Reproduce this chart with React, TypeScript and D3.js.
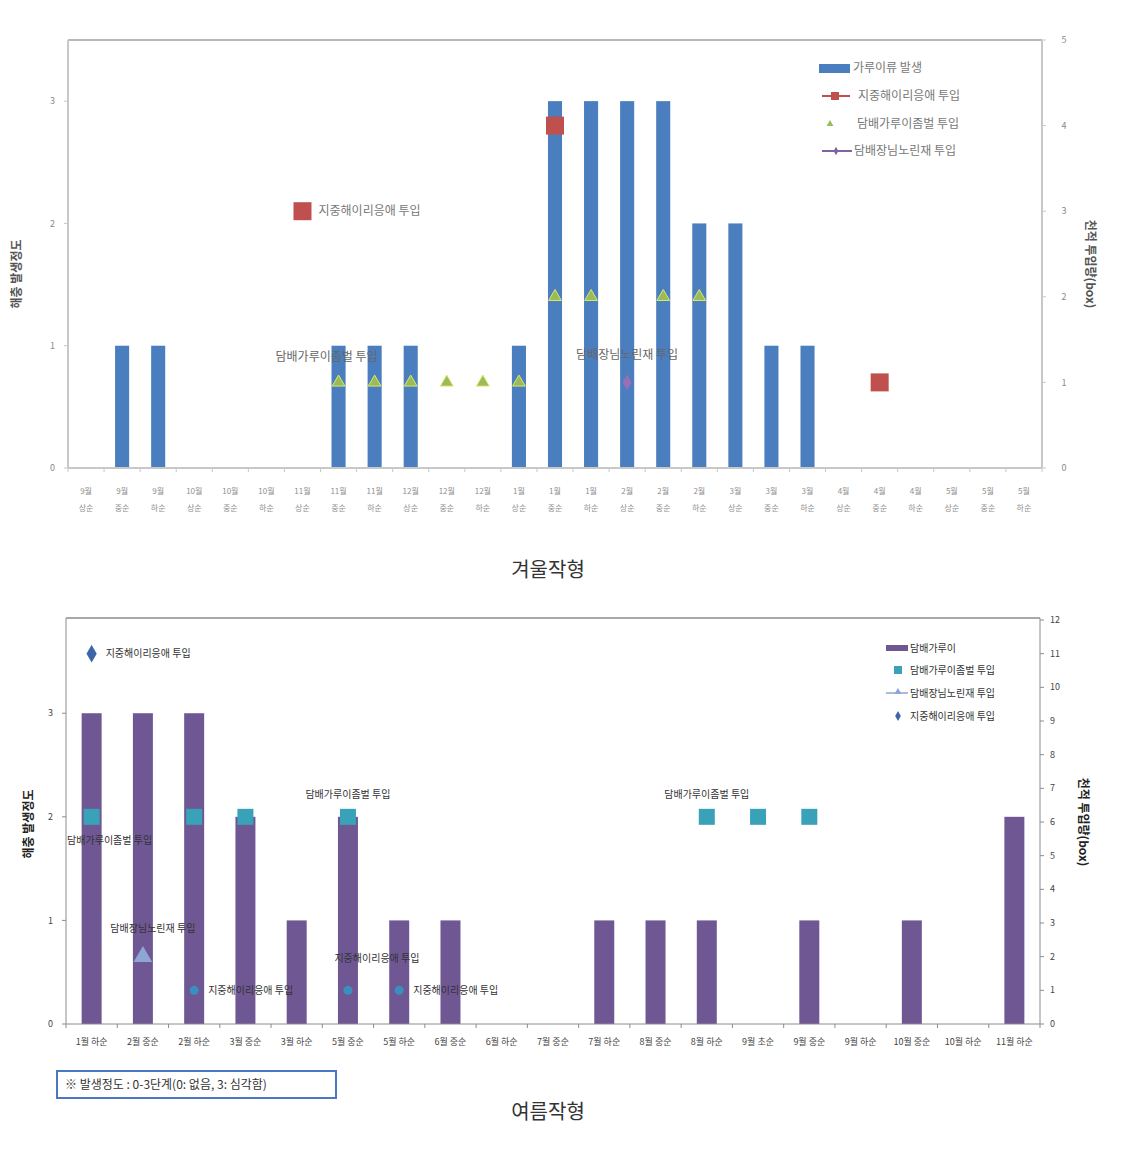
import React from "react";
import * as d3 from "d3";

// ---------- Winter (겨울작형) data ----------
const winterMonths = ["9월", "10월", "11월", "12월", "1월", "2월", "3월", "4월", "5월"];
const winterDekads = ["상순", "중순", "하순"];
const winterCategories: string[] = winterMonths.flatMap((m) => winterDekads.map((d) => `${m} ${d}`));
const winterPest = [0, 1, 1, 0, 0, 0, 0, 1, 1, 1, 0, 0, 1, 3, 3, 3, 3, 2, 2, 1, 1, 0, 0, 0, 0, 0, 0];
const winterMite: (number | null)[] = [null, null, null, null, null, null, 3, null, null, null, null, null, null, 4, null, null, null, null, null, null, null, null, 1, null, null, null, null];
const winterWasp: (number | null)[] = [null, null, null, null, null, null, null, 1, 1, 1, 1, 1, 1, 2, 2, null, 2, 2, null, null, null, null, null, null, null, null, null];
const winterBug: (number | null)[] = [null, null, null, null, null, null, null, null, null, null, null, null, null, null, null, 1, null, null, null, null, null, null, null, null, null, null, null];
const winterLeftTicks = [0, 1, 2, 3];
const winterRightTicks = [0, 1, 2, 3, 4, 5];
const winterLegend = ["가루이류 발생", "지중해이리응애 투입", "담배가루이좀벌 투입", "담배장님노린재 투입"];

// ---------- Summer (여름작형) data ----------
const summerCategories = ["1월 하순", "2월 중순", "2월 하순", "3월 중순", "3월 하순", "5월 중순", "5월 하순", "6월 중순", "6월 하순", "7월 중순", "7월 하순", "8월 중순", "8월 하순", "9월 초순", "9월 중순", "9월 하순", "10월 중순", "10월 하순", "11월 하순"];
const summerPest = [3, 3, 3, 2, 1, 2, 1, 1, 0, 0, 1, 1, 1, 0, 1, 0, 1, 0, 2];
const summerWasp: (number | null)[] = [2, null, 2, 2, null, 2, null, null, null, null, null, null, 2, 2, 2, null, null, null, null];
const summerBug: (number | null)[] = [null, 2, null, null, null, null, null, null, null, null, null, null, null, null, null, null, null, null, null];
const summerMite: (number | null)[] = [11, null, 1, null, null, 1, 1, null, null, null, null, null, null, null, null, null, null, null, null];
const summerLeftTicks = [0, 1, 2, 3];
const summerRightTicks = d3.range(0, 13);
const summerLegend = ["담배가루이", "담배가루이좀벌 투입", "담배장님노린재 투입", "지중해이리응애 투입"];

const FONT = "'Noto Sans CJK KR', 'Noto Sans', sans-serif";

function WinterChart() {
  const x0 = 68, x1 = 1042, yTop = 40, yBot = 468;
  const x = d3.scaleBand<string>().domain(winterCategories).range([x0, x1]).paddingInner(0.61).paddingOuter(0.305);
  const yL = d3.scaleLinear().domain([0, 3.5]).range([yBot, yTop]);
  const yR = d3.scaleLinear().domain([0, 5]).range([yBot, yTop]);
  const cx = (i: number) => (x(winterCategories[i]) as number) + x.bandwidth() / 2;
  const step = x.step();
  const axisColor = "#c8c8c8";
  const textColor = "#8a8a8a";
  const tri = d3.symbol().type(d3.symbolTriangle).size(70)();
  const dia = d3.symbol().type(d3.symbolDiamond).size(70)();
  return (
    <g fontFamily={FONT}>
      <line x1={x0} x2={x1} y1={yTop} y2={yTop} stroke="#b8b8b8" strokeWidth={2} />
      <line x1={x0} x2={x0} y1={yTop} y2={yBot} stroke={axisColor} strokeWidth={2} />
      <line x1={x1} x2={x1} y1={yTop} y2={yBot} stroke={axisColor} strokeWidth={2} />
      {winterPest.map((v, i) => v > 0 ? (
        <rect key={i} x={x(winterCategories[i])} y={yL(v)} width={x.bandwidth()} height={yBot - yL(v)} fill="#4a7ebf" />
      ) : null)}
      <line x1={x0} x2={x1} y1={yBot} y2={yBot} stroke={axisColor} strokeWidth={2} />
      {d3.range(winterCategories.length + 1).map((i) => (
        <line key={i} x1={x0 + i * step} x2={x0 + i * step} y1={yBot} y2={yBot + 4} stroke={axisColor} />
      ))}
      {winterLeftTicks.map((t) => (
        <g key={t}>
          <line x1={x0 - 4} x2={x0} y1={yL(t)} y2={yL(t)} stroke={axisColor} />
          <text x={x0 - 13} y={yL(t)} dy="0.35em" textAnchor="end" fontSize={9} fill={textColor}>{t}</text>
        </g>
      ))}
      {winterRightTicks.map((t) => (
        <g key={t}>
          <line x1={x1} x2={x1 + 4} y1={yR(t)} y2={yR(t)} stroke={axisColor} />
          <text x={x1 + 22} y={yR(t)} dy="0.35em" textAnchor="middle" fontSize={9} fill={textColor}>{t}</text>
        </g>
      ))}
      {winterCategories.map((c, i) => {
        const [m, d] = c.split(" ");
        return (
          <g key={c} fontSize={8} fill="#8f8f8f" textAnchor="middle">
            <text x={cx(i)} y={494}>{m}</text>
            <text x={cx(i)} y={511}>{d}</text>
          </g>
        );
      })}
      <text transform={`translate(21,${(yTop + yBot) / 2 + 20}) rotate(-90)`} textAnchor="middle" fontSize={12} fontWeight="bold" fill="#555">해충 발생정도</text>
      <text transform={`translate(1086,${(yTop + yBot) / 2 + 10}) rotate(90)`} textAnchor="middle" fontSize={12} fontWeight="bold" fill="#555">천적 투입량(box)</text>
      {winterWasp.map((v, i) => v == null ? null : (
        <path key={i} d={tri as string} transform={`translate(${cx(i)},${yR(v)})`} fill="#9bbb59" stroke="#d9e86a" strokeWidth={1} />
      ))}
      {winterMite.map((v, i) => v == null ? null : (
        <rect key={i} x={cx(i) - 9} y={yR(v) - 9} width={18} height={18} fill="#c0504d" />
      ))}
      {winterBug.map((v, i) => v == null ? null : (
        <path key={i} d={dia as string} transform={`translate(${cx(i)},${yR(v)})`} fill="#9b6fb5" />
      ))}
      <text x={cx(6) + 16} y={yR(3)} dy="0.35em" fontSize={12} fill="#777">지중해이리응애 투입</text>
      <text x={cx(7) - 12} y={yR(1) - 26} dy="0.35em" textAnchor="middle" fontSize={12} fill="#666">담배가루이좀벌 투입</text>
      <text x={cx(15)} y={yR(1) - 28} dy="0.35em" textAnchor="middle" fontSize={12} fill="#666">담배장님노린재 투입</text>
      <g fontSize={12} fill="#777">
        <rect x={819} y={64} width={31} height={9} fill="#4a7ebf" />
        <text x={853} y={68} dy="0.35em">{winterLegend[0]}</text>
        <line x1={822} x2={850} y1={96} y2={96} stroke="#c0504d" strokeWidth={2} />
        <rect x={831} y={92} width={8} height={8} fill="#c0504d" />
        <text x={858} y={96} dy="0.35em">{winterLegend[1]}</text>
        <path d={d3.symbol().type(d3.symbolTriangle).size(20)() as string} transform="translate(830,124)" fill="#9bbb59" />
        <text x={857} y={124} dy="0.35em">{winterLegend[2]}</text>
        <line x1={822} x2={852} y1={151} y2={151} stroke="#8064a2" strokeWidth={2} />
        <path d={d3.symbol().type(d3.symbolDiamond).size(20)() as string} transform="translate(836,151)" fill="#8064a2" />
        <text x={854} y={151} dy="0.35em">{winterLegend[3]}</text>
      </g>
    </g>
  );
}

function SummerChart() {
  const x0 = 66, x1 = 1040, yTop = 620, yBot = 1024;
  const x = d3.scaleBand<string>().domain(summerCategories).range([x0, x1]).paddingInner(0.61).paddingOuter(0.305);
  const yL = d3.scaleLinear().domain([0, 3.9]).range([yBot, yTop]);
  const yR = d3.scaleLinear().domain([0, 12]).range([yBot, yTop]);
  const cx = (i: number) => (x(summerCategories[i]) as number) + x.bandwidth() / 2;
  const step = x.step();
  const axisColor = "#8c8c8c";
  const textColor = "#444";
  const tri = d3.symbol().type(d3.symbolTriangle).size(150)();
  const bigDia = d3.symbol().type(d3.symbolDiamond).size(90)();
  const legTri = d3.symbol().type(d3.symbolTriangle).size(22)();
  const legDia = d3.symbol().type(d3.symbolDiamond).size(28)();
  return (
    <g fontFamily={FONT}>
      <line x1={x0} x2={x1} y1={yTop - 2} y2={yTop - 2} stroke="#8c8c8c" strokeWidth={1.5} />
      <line x1={x0} x2={x0} y1={yTop - 2} y2={yBot} stroke={axisColor} />
      <line x1={x1} x2={x1} y1={yTop - 2} y2={yBot} stroke={axisColor} />
      {summerPest.map((v, i) => v > 0 ? (
        <rect key={i} x={x(summerCategories[i])} y={yL(v)} width={x.bandwidth()} height={yBot - yL(v)} fill="#6f5794" />
      ) : null)}
      <line x1={x0} x2={x1} y1={yBot} y2={yBot} stroke={axisColor} />
      {d3.range(summerCategories.length + 1).map((i) => (
        <line key={i} x1={x0 + i * step} x2={x0 + i * step} y1={yBot} y2={yBot + 4} stroke={axisColor} />
      ))}
      {summerLeftTicks.map((t) => (
        <g key={t}>
          <line x1={x0 - 4} x2={x0} y1={yL(t)} y2={yL(t)} stroke={axisColor} />
          <text x={x0 - 13} y={yL(t)} dy="0.35em" textAnchor="end" fontSize={9} fill={textColor}>{t}</text>
        </g>
      ))}
      {summerRightTicks.map((t) => (
        <g key={t}>
          <line x1={x1} x2={x1 + 4} y1={yR(t)} y2={yR(t)} stroke={axisColor} />
          <text x={x1 + 10} y={yR(t)} dy="0.35em" textAnchor="start" fontSize={9} fill={textColor}>{t}</text>
        </g>
      ))}
      {summerCategories.map((c, i) => (
        <text key={c} x={cx(i)} y={1042} dy="0.35em" textAnchor="middle" fontSize={9} fill={textColor}>{c}</text>
      ))}
      <text transform={`translate(33,${(yTop + yBot) / 2 + 2}) rotate(-90)`} textAnchor="middle" fontSize={12} fontWeight="bold" fill="#222">해충 발생정도</text>
      <text transform={`translate(1079,${(yTop + yBot) / 2 + 0}) rotate(90)`} textAnchor="middle" fontSize={12} fontWeight="bold" fill="#222">천적 투입량(box)</text>
      {summerWasp.map((v, i) => v == null ? null : (
        <rect key={i} x={cx(i) - 8} y={yL(v) - 8} width={16} height={16} fill="#3aa2b8" />
      ))}
      {summerBug.map((v, i) => v == null ? null : (
        <path key={i} d={tri as string} transform={`translate(${cx(i)},${yR(v)})`} fill="#8ea6d4" />
      ))}
      {summerMite.map((v, i) => v == null ? null : (
        v > 5 ? (
          <path key={i} d={bigDia as string} transform={`translate(${cx(i)},${yR(v)})`} fill="#3c66a8" />
        ) : (
          <circle key={i} cx={cx(i)} cy={yR(v)} r={4.5} fill="#3b8fbe" />
        )
      ))}
      <g fontSize={10} fill="#333">
        <text x={cx(0) + 14} y={yR(11)} dy="0.35em">지중해이리응애 투입</text>
        <text x={cx(0) + 18} y={yL(2) + 24} dy="0.35em" textAnchor="middle">담배가루이좀벌 투입</text>
        <text x={cx(1) + 10} y={yR(2) - 28} dy="0.35em" textAnchor="middle">담배장님노린재 투입</text>
        <text x={cx(2) + 14} y={yR(1)} dy="0.35em">지중해이리응애 투입</text>
        <text x={cx(5)} y={yL(2) - 22} dy="0.35em" textAnchor="middle">담배가루이좀벌 투입</text>
        <text x={cx(5) + 29} y={yR(1) - 32} dy="0.35em" textAnchor="middle">지중해이리응애 투입</text>
        <text x={cx(6) + 14} y={yR(1)} dy="0.35em">지중해이리응애 투입</text>
        <text x={cx(12)} y={yL(2) - 22} dy="0.35em" textAnchor="middle">담배가루이좀벌 투입</text>
      </g>
      <g fontSize={10} fill="#333">
        <rect x={886} y={645} width={22} height={6} fill="#6f5794" />
        <text x={910} y={648} dy="0.35em">{summerLegend[0]}</text>
        <rect x={894} y={666} width={8} height={8} fill="#3aa2b8" />
        <text x={910} y={670} dy="0.35em">{summerLegend[1]}</text>
        <line x1={886} x2={908} y1={693} y2={693} stroke="#8ea6d4" strokeWidth={1.5} />
        <path d={legTri as string} transform="translate(898,692)" fill="#8ea6d4" />
        <text x={910} y={693} dy="0.35em">{summerLegend[2]}</text>
        <path d={legDia as string} transform="translate(898,716)" fill="#3c66a8" />
        <text x={910} y={716} dy="0.35em">{summerLegend[3]}</text>
      </g>
      <rect x={57} y={1071} width={279} height={27} fill="none" stroke="#4a78c4" strokeWidth={2} />
      <text x={65} y={1085} dy="0.35em" fontSize={12} fill="#333">※ 발생정도 : 0-3단계(0: 없음, 3: 심각함)</text>
    </g>
  );
}

export default function App() {
  return (
    <svg width={1135} height={1169} style={{ position: "absolute", left: 0, top: 0, background: "#fff" }}>
      <rect width={1135} height={1169} fill="#fff" />
      <WinterChart />
      <SummerChart />
      <text x={548} y={577} textAnchor="middle" fontSize={20} fill="#333" fontFamily={FONT}>겨울작형</text>
      <text x={548} y={1119} textAnchor="middle" fontSize={20} fill="#333" fontFamily={FONT}>여름작형</text>
    </svg>
  );
}
